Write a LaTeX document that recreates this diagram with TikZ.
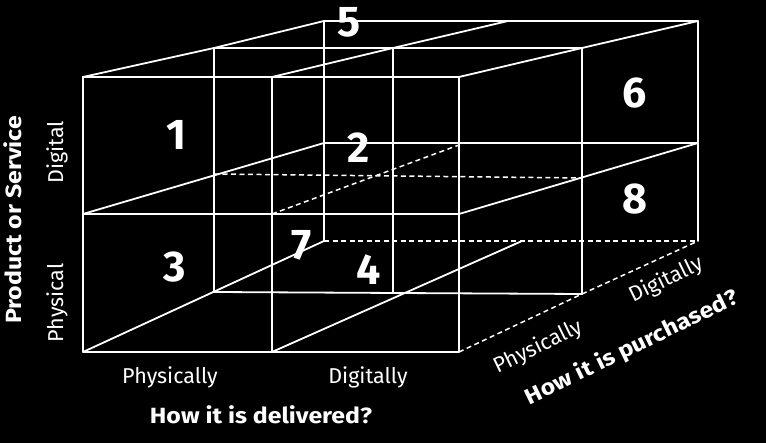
\documentclass[tikz,border=0pt]{standalone}
\usepackage{fontspec}
\setmainfont{Fira Sans}
\newfontfamily\widebold[FakeStretch=1.13]{Fira Sans Bold}
\begin{document}
\begin{tikzpicture}[x=1pt,y=-1pt,
  edge/.style={white,line width=1.8pt,line cap=round,line join=round},
  hid/.style={white,line width=1.5pt,dash pattern=on 5pt off 3.5pt},
  num/.style={white,font=\bfseries\fontsize{43}{43}\selectfont,inner sep=0pt},
  lab/.style={white,font=\fontsize{21.5}{21.5}\selectfont,inner sep=0pt},
  head/.style={white,font=\widebold\fontsize{22}{22}\selectfont,inner sep=0pt}]
\fill[black] (0,0) rectangle (766,443);
\useasboundingbox (0,0) rectangle (766,443);
% front plane
\coordinate (F00) at (83,352); \coordinate (F10) at (272,352); \coordinate (F20) at (459,352);
\coordinate (F01) at (83,214); \coordinate (F11) at (272,214); \coordinate (F21) at (459,214);
\coordinate (F02) at (83,77);  \coordinate (F12) at (272,77);  \coordinate (F22) at (459,77);
% middle plane
\coordinate (M00) at (214,292); \coordinate (M10) at (393,293); \coordinate (M20) at (582,294);
\coordinate (M01) at (214,174); \coordinate (M21) at (582,178);
\coordinate (M02) at (214,48);  \coordinate (M12) at (393,48);  \coordinate (M22) at (582,48);
% back plane
\coordinate (B00) at (324,241); \coordinate (B10) at (522,241); \coordinate (B20) at (698,241);
\coordinate (B01) at (324,143); \coordinate (B21) at (698,143);
\coordinate (B02) at (324,21);  \coordinate (B12) at (508,21);  \coordinate (B22) at (698,21);
\coordinate (D11) at (459,145);
% hidden / dashed lines
\draw[hid] (M01) -- (M21);
\draw[hid] (F11) -- (D11);
\draw[hid] (B00) -- (B20);
\draw[hid] (F20) -- (M20) -- (B20);
% back plane
\draw[edge] (B02) -- (B22) -- (B20);
\draw[edge] (B01) -- (B21);
\draw[edge] (B02) -- (B00);
% middle plane
\draw[edge] (M02) -- (M22) -- (M20);
\draw[edge] (M00) -- (M20);
\draw[edge] (M02) -- (M00);
\draw[edge] (M12) -- (M10);
% depth lines
\draw[edge] (F02) -- (M02) -- (B02);
\draw[edge] (F12) -- (M12) -- (B12);
\draw[edge] (F22) -- (M22) -- (B22);
\draw[edge] (F01) -- (B01);
\draw[edge] (F21) -- (B21);
\draw[edge] (F00) -- (B00);
\draw[edge] (F10) -- (B10);
% front plane
\draw[edge] (F00) rectangle (F22);
\draw[edge] (F01) -- (F21);
\draw[edge] (F10) -- (F12);
% numbers
\node[num] (n1) at (176,135) {1};
\node[num] (n2) at (359,148) {2};
\node[num] (n3) at (175,267) {3};
\node[num] (n4) at (369,270) {4};
\node[num] (n5) at (349,22) {5};
\node[num] (n6) at (635,93) {6};
\node[num] (n7) at (302,245) {7};
\node[num] (n8) at (635,199) {8};
% labels
\node[lab] (dp) at (170,377) {Physically};
\node[lab] (dd) at (368,377) {Digitally};
\node[head] (dh) at (261,415) {How it is delivered?};
\node[head,rotate=90] (ps) at (13,220) {Product or Service};
\node[lab,rotate=90] (pd) at (57,152) {Digital};
\node[lab,rotate=90] (pp) at (57,303) {Physical};
\node[lab,rotate=26] (hp) at (538,347) {Physically};
\node[lab,rotate=26] (hd) at (666,280) {Digitally};
\node[head,rotate=26] (hh) at (632,348) {How it is purchased?};
\end{tikzpicture}
\end{document}
